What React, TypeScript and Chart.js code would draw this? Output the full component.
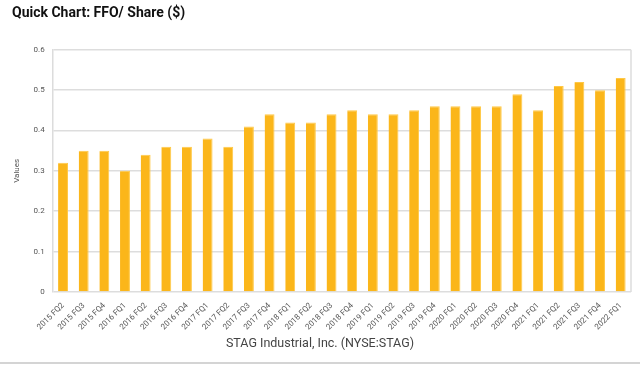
import React, { useEffect, useRef } from "react";
import { Chart, registerables } from "chart.js";

Chart.register(...registerables);

const categories = [
  "2015 FQ2", "2015 FQ3", "2015 FQ4",
  "2016 FQ1", "2016 FQ2", "2016 FQ3", "2016 FQ4",
  "2017 FQ1", "2017 FQ2", "2017 FQ3", "2017 FQ4",
  "2018 FQ1", "2018 FQ2", "2018 FQ3", "2018 FQ4",
  "2019 FQ1", "2019 FQ2", "2019 FQ3", "2019 FQ4",
  "2020 FQ1", "2020 FQ2", "2020 FQ3", "2020 FQ4",
  "2021 FQ1", "2021 FQ2", "2021 FQ3", "2021 FQ4",
  "2022 FQ1",
];

const ffoPerShare = [
  0.32, 0.35, 0.35,
  0.30, 0.34, 0.36, 0.36,
  0.38, 0.36, 0.41, 0.44,
  0.42, 0.42, 0.44, 0.45,
  0.44, 0.44, 0.45, 0.46,
  0.46, 0.46, 0.46, 0.49,
  0.45, 0.51, 0.52, 0.50,
  0.53,
];

const titleText = "Quick Chart: FFO/ Share ($)";
const captionText = "STAG Industrial, Inc. (NYSE:STAG)";
const yAxisTitle = "Values";

const FONT = "Roboto, 'Noto Sans', sans-serif";

const rightBorder = {
  id: "rightBorder",
  afterDraw(chart: any) {
    const { ctx, chartArea } = chart;
    ctx.save();
    ctx.strokeStyle = "#dcdcdc";
    ctx.lineWidth = 1.5;
    ctx.beginPath();
    ctx.moveTo(chartArea.right, chartArea.top);
    ctx.lineTo(chartArea.right, chartArea.bottom);
    ctx.stroke();
    ctx.restore();
  },
};

export default function App() {
  const ref = useRef<HTMLCanvasElement | null>(null);

  useEffect(() => {
    if (!ref.current) return;
    const chart = new Chart(ref.current, {
      type: "bar",
      data: {
        labels: categories,
        datasets: [
          {
            label: "FFO/ Share",
            data: ffoPerShare,
            backgroundColor: "#FBB61A",
            borderColor: "#FFC845",
            borderWidth: { top: 1, right: 1, left: 0, bottom: 0 },
            barPercentage: 0.48,
            categoryPercentage: 1,
          },
        ],
      },
      options: {
        responsive: false,
        animation: false,
        layout: { padding: { left: 12, right: 9, top: 0, bottom: 29 } },
        plugins: {
          legend: { display: false },
          tooltip: { enabled: false },
          title: {
            display: true,
            text: titleText,
            align: "start",
            color: "#111",
            font: { family: FONT, size: 14, weight: "bold" },
            padding: { top: 5, bottom: 28 },
          },
        },
        scales: {
          x: {
            grid: { display: false },
            border: { display: false },
            ticks: {
              color: "#555",
              font: { family: FONT, size: 8 },
              minRotation: 45,
              maxRotation: 45,
              autoSkip: false,
              padding: 1,
            },
          },
          y: {
            min: 0,
            max: 0.6,
            ticks: {
              stepSize: 0.1,
              color: "#555",
              font: { family: FONT, size: 8 },
              padding: 8,
            },
            grid: { color: "#dddddd", lineWidth: 1.5, drawTicks: false },
            border: { display: true, color: "#dcdcdc", width: 1.5 },
            title: {
              display: true,
              text: yAxisTitle,
              color: "#555",
              font: { family: FONT, size: 8 },
              padding: { top: 0, bottom: 4 },
            },
          },
        },
      },
      plugins: [rightBorder],
    });
    return () => chart.destroy();
  }, []);

  return (
    <div
      style={{
        position: "fixed",
        left: 0,
        top: 0,
        width: 640,
        height: 369,
        background: "#fff",
      }}
    >
      <canvas ref={ref} width={640} height={362} style={{ display: "block" }} />
      <div
        style={{
          position: "absolute",
          left: 0,
          top: 335,
          width: 640,
          height: 16,
          lineHeight: "16px",
          textAlign: "center",
          fontFamily: FONT,
          fontSize: 12.5,
          color: "#444",
        }}
      >
        {captionText}
      </div>
      <div
        style={{
          position: "absolute",
          left: 0,
          top: 362,
          width: 640,
          height: 2,
          background: "#d4d4d4",
        }}
      />
    </div>
  );
}
